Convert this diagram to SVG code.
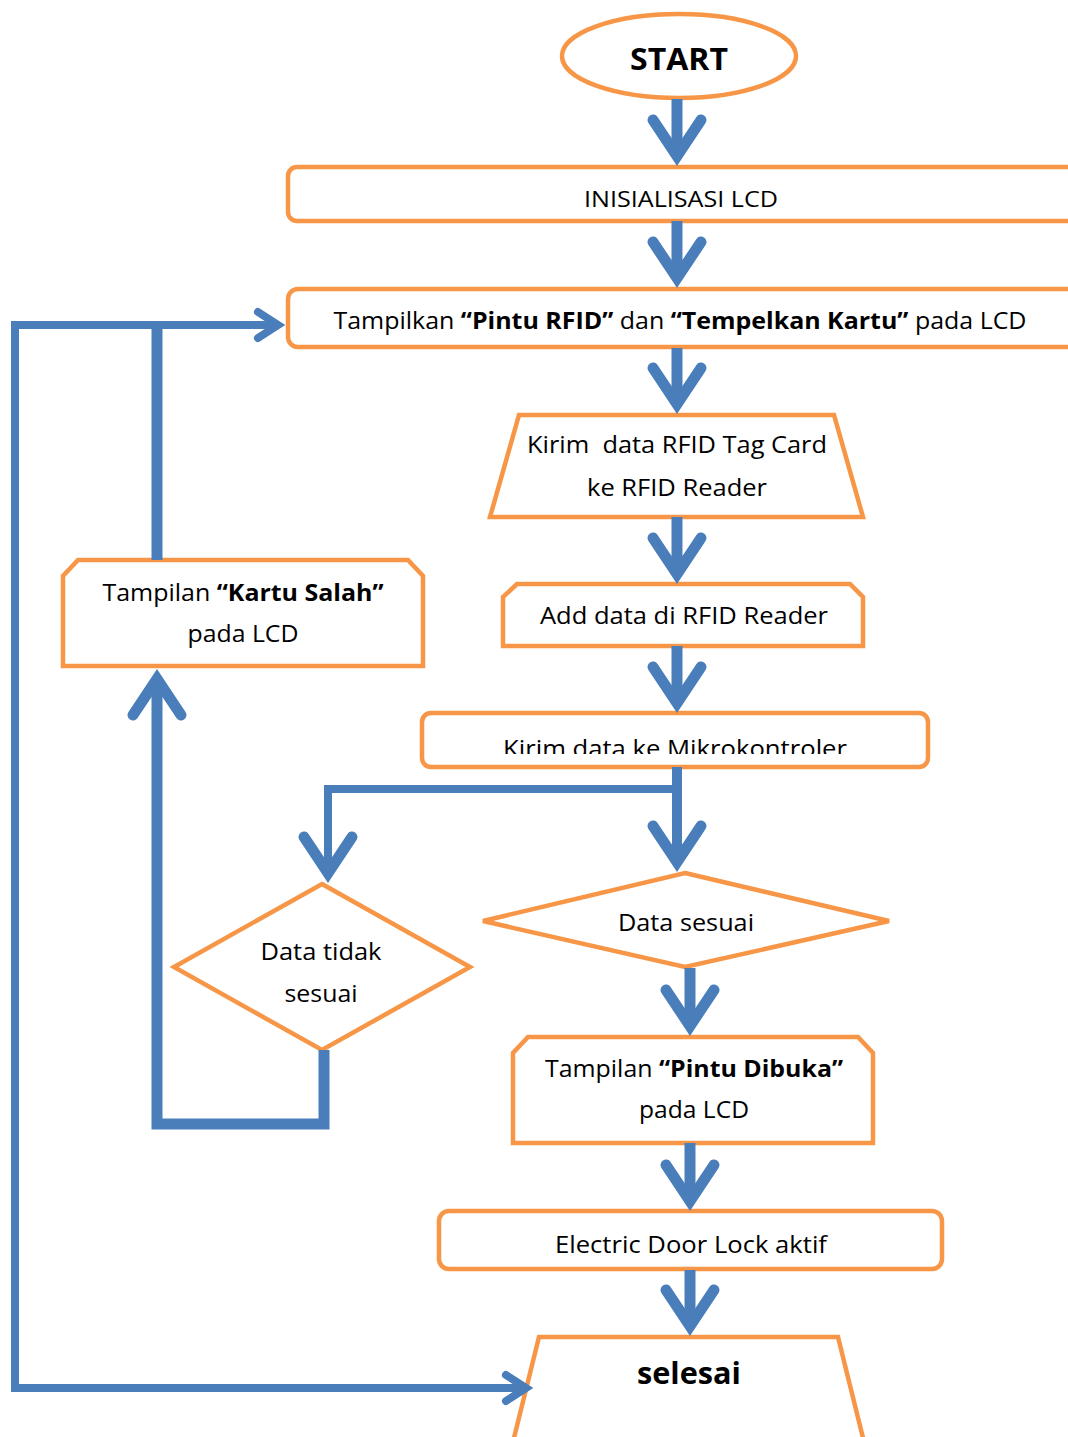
<svg xmlns="http://www.w3.org/2000/svg" width="1068" height="1437" viewBox="0 0 1068 1437">
<style>
.nd{fill:#fff;stroke:#F79646;stroke-width:4.5;stroke-linejoin:miter}
.t{font-family:"Open Sans","Noto Sans",sans-serif;font-size:24px;fill:#000;text-anchor:middle;white-space:pre}
.b{font-weight:bold}
.c{fill:none;stroke:#4A7EBB;stroke-linejoin:miter}
.w11{stroke-width:11}
.w8{stroke-width:8}
</style>
<defs>
<marker id="hb" markerUnits="userSpaceOnUse" orient="auto" refX="0" refY="0" markerWidth="80" markerHeight="80" overflow="visible">
<polyline points="-30,-24 6,0 -30,24" fill="none" stroke="#4A7EBB" stroke-width="11" stroke-linecap="round" stroke-linejoin="miter"/>
</marker>
<marker id="hs" markerUnits="userSpaceOnUse" orient="auto" refX="0" refY="0" markerWidth="60" markerHeight="60" overflow="visible">
<polyline points="-18,-13 2,0 -18,13" fill="none" stroke="#4A7EBB" stroke-width="8" stroke-linecap="round" stroke-linejoin="miter"/>
</marker>
<clipPath id="clipMk"><rect x="422" y="700" width="506" height="54"/></clipPath>
</defs>

<g id="start">
<ellipse class="nd" cx="679" cy="56" rx="117" ry="42"/>
<text class="t b" x="679" y="70" font-size="31" style="font-size:31px" textLength="98" lengthAdjust="spacingAndGlyphs">START</text>
</g>
<g id="init">
<rect class="nd" x="288" y="167" width="800" height="54" rx="9"/>
<text class="t" x="681" y="207" style="font-size:22px" textLength="194" lengthAdjust="spacingAndGlyphs">INISIALISASI LCD</text>
</g>
<g id="tampilkan">
<rect class="nd" x="288" y="289" width="800" height="58" rx="10"/>
<text class="t" x="680" y="329" textLength="693" lengthAdjust="spacingAndGlyphs">Tampilkan <tspan class="b">“Pintu RFID”</tspan> dan <tspan class="b">“Tempelkan Kartu”</tspan> pada LCD</text>
</g>
<g id="kirimTag">
<polygon class="nd" points="519,415 834,415 863,517 490,517"/>
<text class="t" x="677" y="453" textLength="300" lengthAdjust="spacingAndGlyphs">Kirim  data RFID Tag Card</text>
<text class="t" x="677" y="496" textLength="180" lengthAdjust="spacingAndGlyphs">ke RFID Reader</text>
</g>
<g id="addData">
<polygon class="nd" points="517,584 850,584 863,597 863,646 503,646 503,597"/>
<text class="t" x="684" y="624" textLength="288" lengthAdjust="spacingAndGlyphs">Add data di RFID Reader</text>
</g>
<g id="kirimMikro">
<rect class="nd" x="422" y="713" width="506" height="54" rx="9"/>
<text class="t" x="675" y="757" clip-path="url(#clipMk)" textLength="344" lengthAdjust="spacingAndGlyphs">Kirim data ke Mikrokontroler</text>
</g>
<g id="kartuSalah">
<polygon class="nd" points="78,560 408,560 423,576 423,666 63,666 63,576"/>
<text class="t" x="243" y="601" textLength="281" lengthAdjust="spacingAndGlyphs">Tampilan <tspan class="b">“Kartu Salah”</tspan></text>
<text class="t" x="243" y="642" textLength="111" lengthAdjust="spacingAndGlyphs">pada LCD</text>
</g>
<g id="dataTidak">
<polygon class="nd" points="322,884 470,967 322,1050 174,967"/>
<text class="t" x="321" y="960" textLength="121" lengthAdjust="spacingAndGlyphs">Data tidak</text>
<text class="t" x="321" y="1002" textLength="73" lengthAdjust="spacingAndGlyphs">sesuai</text>
</g>
<g id="dataSesuai">
<polygon class="nd" points="685,873 889,921 685,967 483,921"/>
<text class="t" x="686" y="931" textLength="136" lengthAdjust="spacingAndGlyphs">Data sesuai</text>
</g>
<g id="pintuDibuka">
<polygon class="nd" points="528,1037 858,1037 873,1053 873,1143 513,1143 513,1053"/>
<text class="t" x="694" y="1077" textLength="298" lengthAdjust="spacingAndGlyphs">Tampilan <tspan class="b">“Pintu Dibuka”</tspan></text>
<text class="t" x="694" y="1118" textLength="110" lengthAdjust="spacingAndGlyphs">pada LCD</text>
</g>
<g id="doorLock">
<rect class="nd" x="439" y="1211" width="503" height="58" rx="10"/>
<text class="t" x="691" y="1253" textLength="272" lengthAdjust="spacingAndGlyphs">Electric Door Lock aktif</text>
</g>
<g id="selesai">
<polygon class="nd" points="539,1337 838,1337 866,1450 511,1450"/>
<text class="t b" x="689" y="1384" style="font-size:31px" textLength="104" lengthAdjust="spacingAndGlyphs">selesai</text>
</g>

<g id="connectors">
<path class="c w11" d="M677 99 V150" marker-end="url(#hb)"/>
<path class="c w11" d="M677 221 V272" marker-end="url(#hb)"/>
<path class="c w11" d="M677 348 V398" marker-end="url(#hb)"/>
<path class="c w11" d="M677 517 V568" marker-end="url(#hb)"/>
<path class="c w11" d="M677 646 V697" marker-end="url(#hb)"/>
<path class="c" style="stroke-width:10" d="M677 767 V856" marker-end="url(#hb)"/>
<path class="c w8" d="M677 789 H328 V867" marker-end="url(#hb)"/>
<path class="c w11" d="M690 968 V1020" marker-end="url(#hb)"/>
<path class="c w11" d="M690 1143 V1195" marker-end="url(#hb)"/>
<path class="c w11" d="M690 1270 V1320" marker-end="url(#hb)"/>
<path class="c w11" d="M324 1050 V1124 H157 V685" marker-end="url(#hb)"/>
<path class="c w11" d="M157 560 V321"/>
<path class="c w8" d="M15 325 H276" marker-end="url(#hs)"/>
<path class="c w8" d="M15 321 V1388 H524" marker-end="url(#hs)"/>
</g>
</svg>
